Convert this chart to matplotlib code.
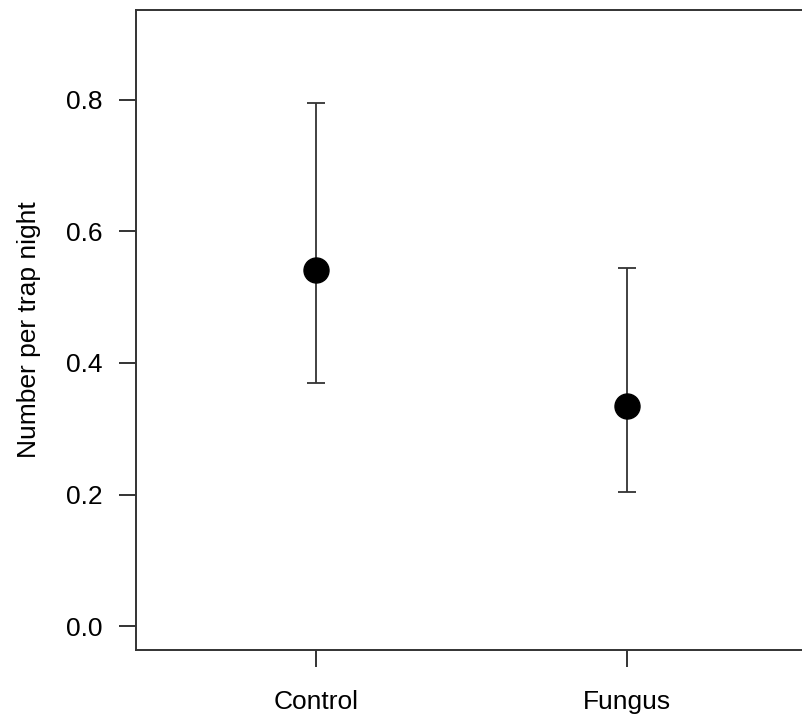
import numpy as np
import matplotlib.pyplot as plt

# Values
groups = ["Control", "Fungus"]
means = [0.541, 0.334]
lower = [0.370, 0.204]
upper = [0.795, 0.544]

plt.rcParams["font.family"] = ["Liberation Sans", "DejaVu Sans"]

fig = plt.figure(figsize=(8.02, 7.16), dpi=100)
ax = fig.add_axes([136 / 802, 66 / 716, 671 / 802, 640 / 716])

x = np.arange(1, len(groups) + 1)
means = np.array(means)
yerr = [means - np.array(lower), np.array(upper) - means]

ax.errorbar(x, means, yerr=yerr, fmt="none", ecolor="#333333",
            elinewidth=1.3, capsize=6.5, capthick=1.3)
ax.plot(x, means, "o", color="black", markersize=18)

# R-style axis range (4% padding)
ax.set_xlim(0.42, 2.58)
ax.set_ylim(-0.036, 0.936)
ax.set_yticks([0.0, 0.2, 0.4, 0.6, 0.8])
ax.set_yticklabels(["0.0", "0.2", "0.4", "0.6", "0.8"])
ax.set_xticks(x)
ax.set_xticklabels(groups)

for s in ax.spines.values():
    s.set_linewidth(1.4)
    s.set_color("#333333")
ax.tick_params(axis="both", direction="out", length=12, width=1.4,
               color="#333333", labelsize=19)
ax.tick_params(axis="y", pad=12)
ax.tick_params(axis="x", pad=17)

ax.set_ylabel("Number per trap night", fontsize=19, labelpad=18)

fig.savefig("out.png", dpi=100)
